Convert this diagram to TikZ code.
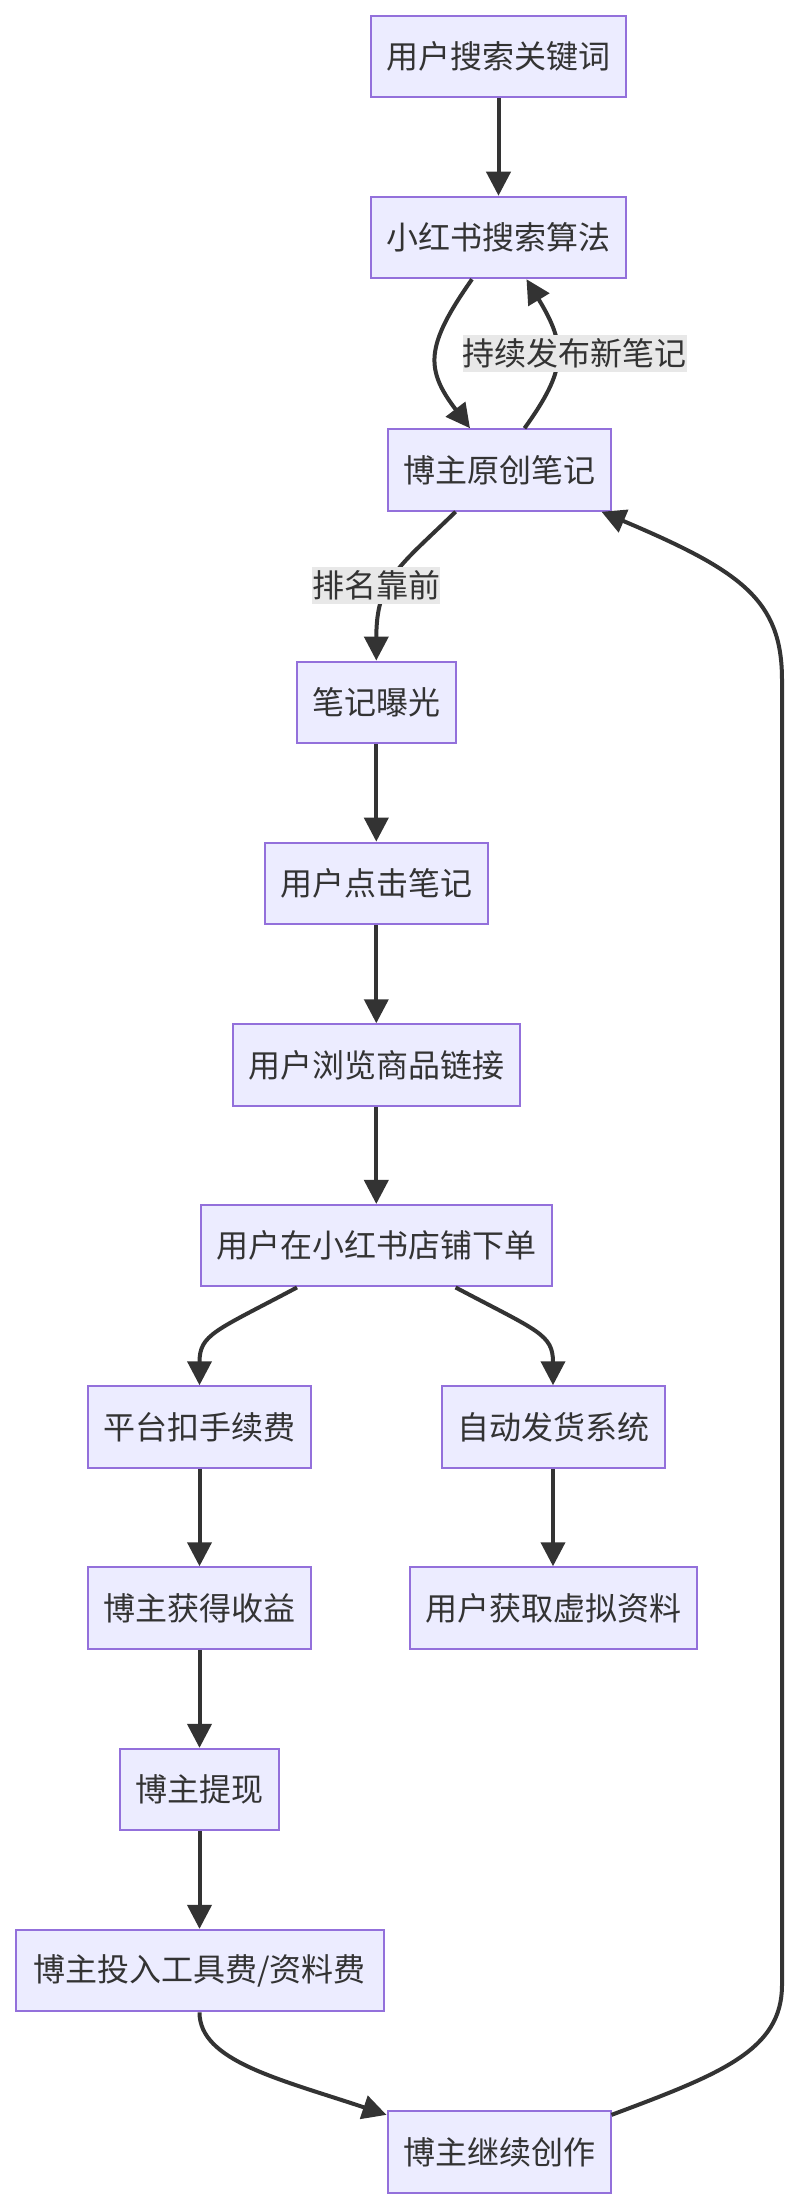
\documentclass[tikz,border=0pt]{standalone}
\usepackage{fontspec}
\setmainfont{Noto Sans CJK SC}
\usetikzlibrary{arrows.meta,calc}
\definecolor{boxfill}{HTML}{ECECFF}
\definecolor{boxline}{HTML}{9370DB}
\definecolor{inkgray}{HTML}{333333}
\definecolor{lblfill}{HTML}{E8E8E8}
\begin{document}
\begin{tikzpicture}[>={Triangle[length=12pt,width=12pt]}, x=0.5pt, y=-0.5pt,
    box/.style={draw=boxline, fill=boxfill, line width=1pt, text=inkgray,
        minimum height=40.75pt, inner xsep=7.75pt, inner ysep=0pt,
        font=\fontsize{16pt}{20pt}\selectfont},
    lbl/.style={fill=lblfill, text=inkgray, inner sep=0pt, minimum height=18.5pt,
        font=\fontsize{16pt}{20pt}\selectfont},
    flow/.style={->, draw=inkgray, line width=2pt}]
            \useasboundingbox (0,0) rectangle (800,2210);

            \node[box] (kw) at (498.5, 56.4) {用户搜索关键词};
            \node[box] (algo) at (498.5, 237.5) {小红书搜索算法};
            \node[box] (note) at (499, 470) {博主原创笔记};
            \node[box] (expo) at (376.3, 702.3) {笔记曝光};
            \node[box] (click) at (376.3, 883.4) {用户点击笔记};
            \node[box] (browse) at (376.3, 1065) {用户浏览商品链接};
            \node[box] (order) at (376.3, 1245.7) {用户在小红书店铺下单};
            \node[box] (fee) at (199.5, 1427) {平台扣手续费};
            \node[box] (ship) at (553, 1427) {自动发货系统};
            \node[box] (income) at (199.5, 1608) {博主获得收益};
            \node[box] (get) at (553, 1608) {用户获取虚拟资料};
            \node[box] (cash) at (199.5, 1789.6) {博主提现};
            \node[box, minimum width=184pt] (invest) at (199.5, 1970.6) {博主投入工具费/资料费};
            \node[box] (again) at (499, 2152) {博主继续创作};

            \coordinate (loopbot) at (782, 1985);
            \coordinate (looptop) at (782, 680);

            \draw[flow] (kw) -- (algo);
            \draw[flow] ($(algo.south)+(-26.5,0)$) .. controls +(-47,66.8) and +(-45,-59) .. ($(note.north)+(-29,0)$);
            \draw[flow] ($(note.north)+(25.5,0)$) .. controls +(42.5,-59) and +(40.5,66.8) .. ($(algo.south)+(28,0)$)
                node[lbl, pos=0.5, xshift=9pt, yshift=1.75pt] (again_lbl) {持续发布新笔记};
            \draw[flow] ($(note.south)+(-43.4,0)$) .. controls +(-55.6,54.3) and +(0,-81.4) .. (expo.north)
                node[lbl, pos=0.5, xshift=-9.5pt, yshift=-4.8pt] (rank_lbl) {排名靠前};
            \draw[flow] (expo) -- (click);
            \draw[flow] (click) -- (browse);
            \draw[flow] (browse) -- (order);
            \draw[flow] ($(order.south)+(-79.3,0)$) .. controls +(-82,43.6) and +(0,-51) .. (fee.north);
            \draw[flow] ($(order.south)+(79.3,0)$) .. controls +(82.4,43.6) and +(0,-51) .. (ship.north);
            \draw[flow] (fee) -- (income);
            \draw[flow] (ship) -- (get);
            \draw[flow] (income) -- (cash);
            \draw[flow] (cash) -- (invest);
            \draw[flow] (invest.south) .. controls +(0,48.5) and +(-107.8,-36) .. ($(again.north west)+(0,4.6)$);
            % back to the notes
            \draw[flow] ($(again.north east)+(0,4.6)$) .. controls +(109.8,-41) and +(0,65) .. (loopbot)
                -- (looptop) .. controls +(0,-80) and +(140,59.3) .. ($(note.south east)+(-10,0)$);
        \end{tikzpicture}
\end{document}
